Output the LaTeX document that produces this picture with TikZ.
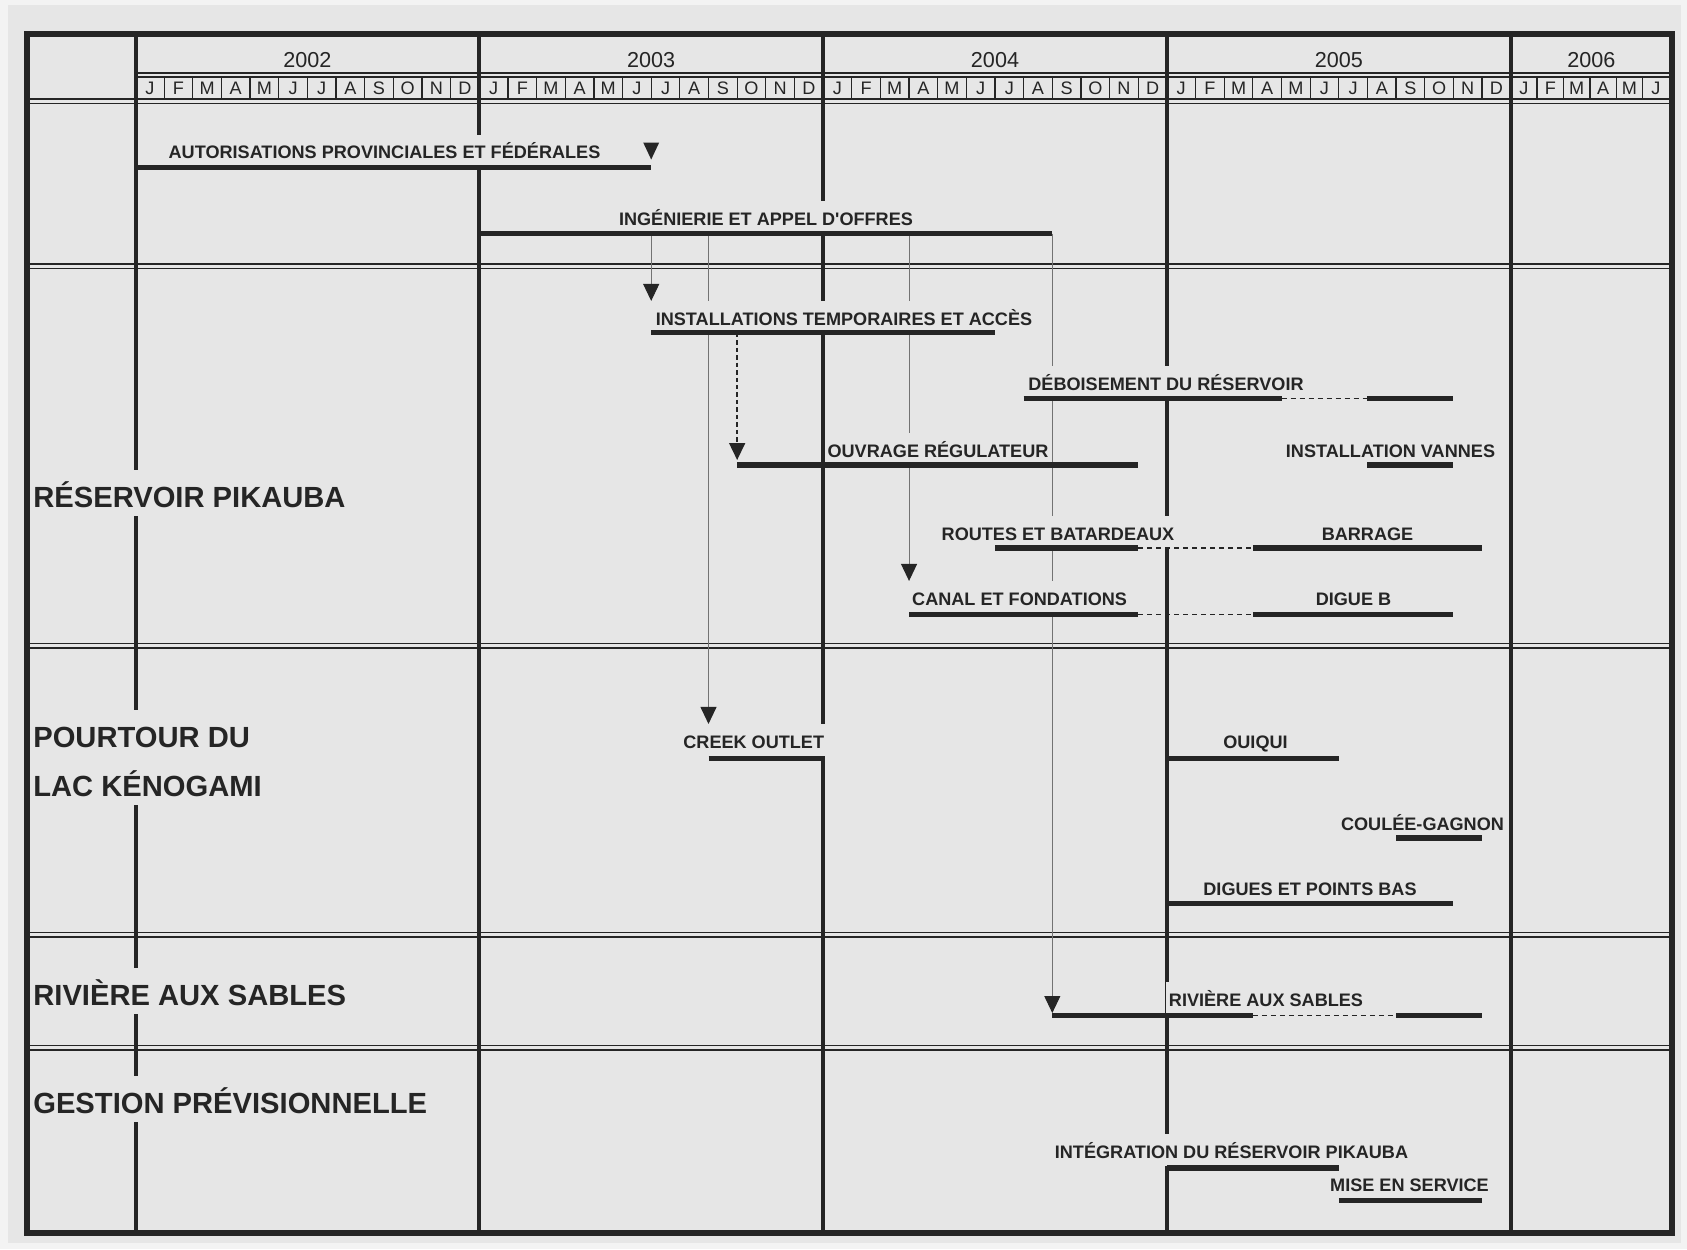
\documentclass[tikz,border=0pt]{standalone}
\usepackage{fontspec}
\setmainfont{Liberation Sans}
\usetikzlibrary{arrows.meta,calc}

\definecolor{paper}{HTML}{E6E6E6}
\definecolor{margin}{HTML}{F3F3F3}
\definecolor{ink}{HTML}{252525}

\pgfdeclarelayer{back}
\pgfdeclarelayer{grid}
\pgfsetlayers{back,grid,main}

\tikzset{
  frame/.style={ink, line width=0.11cm},
  yearline/.style={ink, line width=0.08cm},
  rule/.style={ink, line width=0.035cm},
  cell/.style={ink, line width=0.025cm},
  bar/.style={ink, line width=0.105cm},
  gap/.style={ink, line width=0.035cm, dash pattern=on 0.1cm off 0.08cm},
  link/.style={black!55, line width=0.02cm, -{Triangle[width=0.32cm,length=0.34cm,color=ink]}},
  dlink/.style={ink, line width=0.03cm, dash pattern=on 0.09cm off 0.06cm, -{Triangle[width=0.32cm,length=0.34cm]}},
  year/.style={font=\fontsize{12.3}{14}\selectfont, text=ink, anchor=base, inner sep=0pt},
  month/.style={font=\fontsize{10.3}{12}\selectfont, text=ink, anchor=base, inner sep=0pt},
  task/.style={font=\fontsize{10.3}{12}\selectfont\bfseries, text=ink, fill=paper, anchor=base,
    inner xsep=1.5pt, inner ysep=1pt, text height=12.5pt, text depth=3.5pt},
  zone/.style={font=\fontsize{16.6}{20}\selectfont\bfseries, text=ink, fill=paper, anchor=base west,
    inner sep=0pt, text height=21pt, text depth=5pt},
}

\begin{document}
\begin{tikzpicture}[x=0.02cm, y=-0.02cm, declare function={mo(\m)=135.5+28.65*\m;}]
\useasboundingbox (0,0) rectangle (1687,1249);
\begin{pgfonlayer}{back}
  \fill[margin] (0,0) rectangle (1687,1249);
  \fill[paper] (8,5) rectangle (1681,1243);
\end{pgfonlayer}

% calendar grid
\begin{pgfonlayer}{grid}
  \foreach \k in {0,...,4}
    \draw[yearline] ({mo(12*\k)},34) -- ({mo(12*\k)},1233);
  \draw[rule] ({mo(0)},73) -- (1672,73);
  \draw[cell] ({mo(0)},77) -- (1672,77);
  \draw[rule] (27,99) -- (1672,99);
  \draw[rule] (27,103.5) -- (1672,103.5);
  \foreach \m in {1,...,47}
    \draw[cell] ({mo(\m)},77) -- ({mo(\m)},99);
  \foreach \m in {1,...,5}
    \draw[cell] ({mo(48)+26.4*\m},77) -- ({mo(48)+26.4*\m},99);
  \foreach \y in {0,...,3}
    \foreach \l [count=\i from 0] in {J,F,M,A,M,J,J,A,S,O,N,D}
      \node[month] (m\y-\i) at ({mo(12*\y+\i+0.5)},94) {\l};
  \foreach \l [count=\i from 0] in {J,F,M,A,M,J}
    \node[month] (m4-\i) at ({mo(48)+26.4*(\i+0.5)},94) {\l};
  \foreach \y [count=\i from 0] in {2002,2003,2004,2005}
    \node[year] (y\y) at ({mo(12*\i+6)},67) {\y};
  \node[year] (y2006) at ({(mo(48)+1672)/2},67) {2006};
  \foreach \s in {264,643.5,932.5,1045.5}
    \draw[rule] (27,\s) -- (1672,\s) (27,\s+4.5) -- (1672,\s+4.5);
  \draw[frame] (27,34) rectangle (1672,1233);
\end{pgfonlayer}

% sections
\node[zone] (z-res) at (33,507) {RÉSERVOIR PIKAUBA};
\node[zone, text depth=15pt] (z-pour) at (33,747) {POURTOUR DU};
\node[zone] (z-lac) at (33,796) {LAC KÉNOGAMI};
\node[zone] (z-riv) at (33,1005) {RIVIÈRE AUX SABLES};
\node[zone] (z-ges) at (33,1113) {GESTION PRÉVISIONNELLE};

% tasks
\node[task] (autor) at (384.5,158.5) {AUTORISATIONS PROVINCIALES ET FÉDÉRALES};
\coordinate (autor-s) at ({mo(0)},167.5);
\coordinate (autor-e) at ({mo(18)},167.5);

\node[task] (ing) at (766,225) {INGÉNIERIE ET APPEL D\textquotesingle OFFRES};
\coordinate (ing-s) at ({mo(12)},233.5);
\coordinate (ing-e) at ({mo(32)},233.5);
\coordinate (ing-a) at ({mo(18)},233.5);
\coordinate (ing-b) at ({mo(20)},233.5);
\coordinate (ing-c) at ({mo(27)},233.5);

\node[task] (inst) at (844,325) {INSTALLATIONS TEMPORAIRES ET ACCÈS};
\coordinate (inst-s) at ({mo(18)},332.5);
\coordinate (inst-e) at ({mo(30)},332.5);
\coordinate (inst-d) at ({mo(21)},332.5);

\node[task] (deb) at (1166,390) {DÉBOISEMENT DU RÉSERVOIR};
\coordinate (deb-s) at ({mo(31)},398.5);
\coordinate (deb-e) at ({mo(40)},398.5);
\coordinate (deb-r) at ({mo(43)},398.5);
\coordinate (deb-f) at ({mo(46)},398.5);

\node[task] (ouv) at (938,457) {OUVRAGE RÉGULATEUR};
\coordinate (ouv-s) at ({mo(21)},465);
\coordinate (ouv-e) at ({mo(35)},465);

\node[task] (van) at (1390.5,457) {INSTALLATION VANNES};
\coordinate (van-s) at ({mo(43)},465);
\coordinate (van-e) at ({mo(46)},465);

\node[task] (routes) at (1058,540) {ROUTES ET BATARDEAUX};
\coordinate (rou-s) at ({mo(30)},548);
\coordinate (rou-e) at ({mo(35)},548);
\node[task] (barrage) at (1367.5,540) {BARRAGE};
\coordinate (bar-s) at ({mo(39)},548);
\coordinate (bar-e) at ({mo(47)},548);

\node[task] (canal) at (1019.6,605) {CANAL ET FONDATIONS};
\coordinate (can-s) at ({mo(27)},614.5);
\coordinate (can-e) at ({mo(35)},614.5);
\node[task] (digueb) at (1353.5,605) {DIGUE B};
\coordinate (dig-s) at ({mo(39)},614.5);
\coordinate (dig-e) at ({mo(46)},614.5);

\node[task] (creek) at (753.75,748) {CREEK OUTLET};
\coordinate (cre-s) at ({mo(20)},758.5);
\coordinate (cre-e) at ({mo(24)},758.5);

\node[task] (ouiqui) at (1255.5,748) {OUIQUI};
\coordinate (oui-s) at ({mo(36)},758.5);
\coordinate (oui-e) at ({mo(42)},758.5);

\node[task] (coulee) at (1422.5,830) {COULÉE-GAGNON};
\coordinate (cou-s) at ({mo(44)},838);
\coordinate (cou-e) at ({mo(47)},838);

\node[task] (digues) at (1310,895) {DIGUES ET POINTS BAS};
\coordinate (dpb-s) at ({mo(36)},903.5);
\coordinate (dpb-e) at ({mo(46)},903.5);

\node[task] (riv) at (1266,1006) {RIVIÈRE AUX SABLES};
\coordinate (riv-s) at ({mo(32)},1015.5);
\coordinate (riv-e) at ({mo(39)},1015.5);
\coordinate (riv-r) at ({mo(44)},1015.5);
\coordinate (riv-f) at ({mo(47)},1015.5);

\node[task] (integ) at (1231.5,1158) {INTÉGRATION DU RÉSERVOIR PIKAUBA};
\coordinate (int-s) at ({mo(36)},1168);
\coordinate (int-e) at ({mo(42)},1168);

\node[task] (mise) at (1409.5,1191) {MISE EN SERVICE};
\coordinate (mis-s) at ({mo(42)},1200.5);
\coordinate (mis-e) at ({mo(47)},1200.5);

% bars
\draw[bar] (autor-s) -- (autor-e);
\draw[bar] (ing-s) -- (ing-e);
\draw[bar] (inst-s) -- (inst-e);
\draw[bar] (deb-s) -- (deb-e) (deb-r) -- (deb-f);
\draw[gap] (deb-e) -- (deb-r);
\draw[bar] (ouv-s) -- (ouv-e);
\draw[bar] (van-s) -- (van-e);
\draw[bar] (rou-s) -- (rou-e) (bar-s) -- (bar-e);
\draw[gap] (rou-e) -- (bar-s);
\draw[bar] (can-s) -- (can-e) (dig-s) -- (dig-e);
\draw[gap] (can-e) -- (dig-s);
\draw[bar] (cre-s) -- (cre-e);
\draw[bar] (oui-s) -- (oui-e);
\draw[bar] (cou-s) -- (cou-e);
\draw[bar] (dpb-s) -- (dpb-e);
\draw[bar] (riv-s) -- (riv-e) (riv-r) -- (riv-f);
\draw[gap] (riv-e) -- (riv-r);
\draw[bar] (int-s) -- (int-e);
\draw[bar] (mis-s) -- (mis-e);
\fill[ink] ($(autor-e)+(-8,-25)$) -- ++(16,0) -- ++(-8,17) -- cycle;

% links
\begin{pgfonlayer}{grid}
  \draw[link] (ing-a) -- (ing-a |- inst.north);
  \draw[link] (ing-b) -- (ing-b |- creek.north);
  \draw[link] (ing-c) -- (ing-c |- canal.north);
  \draw[link, shorten >=0.05cm] (ing-e) -- (riv-s);
  \draw[dlink, shorten >=0.1cm] (inst-d) -- (ouv-s);
\end{pgfonlayer}
\end{tikzpicture}
\end{document}
